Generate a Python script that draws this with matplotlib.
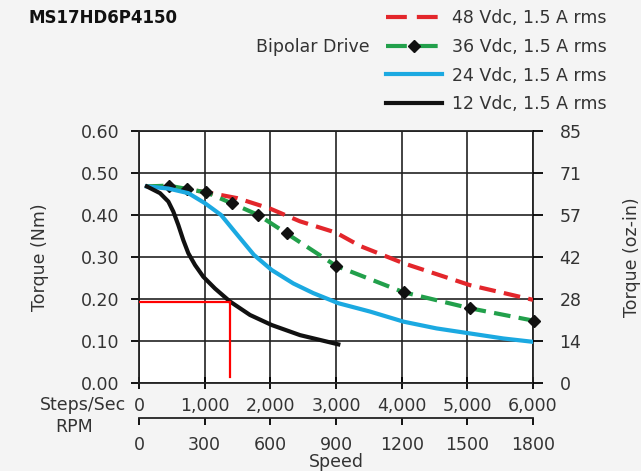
import matplotlib.pyplot as plt
from matplotlib.lines import Line2D

# torque vs speed
steps_48 = [120, 500, 1000, 1500, 2000, 2450, 3000, 3370, 4030, 5040, 6000]
torque_48 = [0.468, 0.466, 0.455, 0.440, 0.415, 0.385, 0.358, 0.326, 0.285, 0.233, 0.198]

steps_36 = [120, 450, 730, 1020, 1410, 1817, 2249, 3000, 4030, 5040, 6020]
torque_36 = [0.468, 0.470, 0.462, 0.454, 0.428, 0.400, 0.356, 0.279, 0.216, 0.178, 0.148]

steps_24 = [120, 447, 751, 1005, 1250, 1512, 1750, 2021, 2350, 2654, 3035,
            3520, 4030, 4530, 5040, 5550, 6000]
torque_24 = [0.468, 0.463, 0.452, 0.428, 0.400, 0.350, 0.305, 0.269, 0.237, 0.214, 0.190,
             0.170, 0.146, 0.130, 0.118, 0.106, 0.098]

steps_12 = [120, 320, 447, 523, 599, 675, 751, 853, 979, 1157, 1386, 1690,
            2021, 2452, 3035]
torque_12 = [0.468, 0.452, 0.432, 0.408, 0.376, 0.340, 0.309, 0.281, 0.253, 0.225, 0.194,
             0.162, 0.138, 0.114, 0.092]

# red operating point marker
op_steps = 1390
op_torque = 0.193

steps_ticks = [0, 1000, 2000, 3000, 4000, 5000, 6000]
steps_labels = ['0', '1,000', '2,000', '3,000', '4,000', '5,000', '6,000']
rpm_ticks = [0, 300, 600, 900, 1200, 1500, 1800]
nm_ticks = [0.0, 0.1, 0.2, 0.3, 0.4, 0.5, 0.6]
nm_labels = ['0.00', '0.10', '0.20', '0.30', '0.40', '0.50', '0.60']
oz_labels = ['0', '14', '28', '42', '57', '71', '85']

legend_labels = ['48 Vdc, 1.5 A rms', '36 Vdc, 1.5 A rms',
                 '24 Vdc, 1.5 A rms', '12 Vdc, 1.5 A rms']

RED = '#e3262b'
GREEN = '#22a04b'
BLUE = '#1ba9e1'
BLACK = '#111111'
TXT = '#333333'

plt.rcParams['font.family'] = ['DejaVu Sans']
plt.rcParams['font.size'] = 12.5

W, H = 641, 471
fig = plt.figure(figsize=(W / 100, H / 100), dpi=100, facecolor='#f4f4f4')


def fx(px):
    return px / W


def fy(py):
    return 1 - py / H


ax = fig.add_axes([fx(139), fy(383), fx(533) - fx(139), (383 - 131) / H])
ax.set_facecolor('white')

dash = (0, (4, 2))
ax.plot(steps_48, torque_48, color=RED, lw=3, linestyle=dash, zorder=3)
ax.plot(steps_36, torque_36, color=GREEN, lw=3, linestyle=dash, zorder=3,
        marker='D', ms=6, mfc=BLACK, mec=BLACK,
        markevery=list(range(1, len(steps_36))), clip_on=False)
ax.plot(steps_24, torque_24, color=BLUE, lw=3, zorder=3)
ax.plot(steps_12, torque_12, color=BLACK, lw=3, zorder=3)

ax.plot([0, op_steps], [op_torque, op_torque], color='red', lw=1.6, zorder=4)
ax.plot([op_steps, op_steps], [op_torque, 0.015], color='red', lw=1.6, zorder=4)

ax.set_xlim(0, 6000)
ax.set_ylim(0, 0.6)
ax.set_xticks(steps_ticks)
ax.set_xticklabels(steps_labels, color=TXT)
ax.set_yticks(nm_ticks)
ax.set_yticklabels(nm_labels, color=TXT)
ax.grid(True, color='#222222', lw=1.2)
for s in ax.spines.values():
    s.set_color('#222222')
    s.set_linewidth(1.3)
ax.tick_params(axis='x', direction='inout', length=8, width=1.3, pad=6)
ax.tick_params(axis='y', direction='out', length=6, width=1.3, pad=8)

ax2 = ax.twinx()
ax2.set_ylim(0, 0.6)
ax2.set_yticks(nm_ticks)
ax2.set_yticklabels(oz_labels, color=TXT)
ax2.tick_params(axis='y', direction='out', length=7, width=1.3, pad=12)
for s in ax2.spines.values():
    s.set_visible(False)

sec = ax.secondary_xaxis(-35 / 252, functions=(lambda s: s * 0.3, lambda r: r / 0.3))
sec.set_xticks(rpm_ticks)
sec.set_xticklabels([str(r) for r in rpm_ticks], color=TXT)
sec.tick_params(direction='out', length=5, width=1.3, pad=8)
sec.spines['bottom'].set_linewidth(1.3)
sec.spines['bottom'].set_color('#222222')

fig.text(fx(40), fy(257), 'Torque (Nm)', rotation=90, ha='center', va='center', color=TXT)
fig.text(fx(632), fy(257), 'Torque (oz-in)', rotation=90, ha='center', va='center', color=TXT)
fig.text(fx(126), fy(405), 'Steps/Sec', ha='right', va='center', color=TXT)
fig.text(fx(74), fy(427), 'RPM', ha='center', va='center', color=TXT)
fig.text(fx(336), fy(462), 'Speed', ha='center', va='center', color=TXT)
fig.text(fx(28), fy(18), 'MS17HD6P4150', ha='left', va='center',
         fontweight='bold', fontsize=12, color=BLACK)
fig.text(fx(370), fy(47), 'Bipolar Drive', ha='right', va='center', color=TXT)

leg_dash = (0, (5, 2.4))
handles = [
    Line2D([], [], color=RED, lw=3, linestyle=leg_dash),
    Line2D([], [], color=GREEN, lw=3, linestyle=leg_dash, marker='D', ms=6,
           mfc=BLACK, mec=BLACK),
    Line2D([], [], color=BLUE, lw=3),
    Line2D([], [], color=BLACK, lw=3),
]
leg = fig.legend(handles, legend_labels, loc='upper left',
                 bbox_to_anchor=(fx(386), fy(9)), frameon=False,
                 borderpad=0, borderaxespad=0, handlelength=3.2,
                 handletextpad=0.6, labelspacing=0.62, numpoints=1)
for t in leg.get_texts():
    t.set_color(TXT)

fig.savefig('out.png', dpi=100, facecolor=fig.get_facecolor())
